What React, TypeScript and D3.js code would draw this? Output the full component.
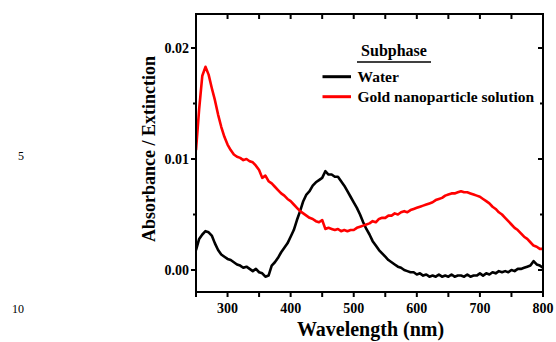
import React from "react";
import * as d3 from "d3";

// wavelength grid (nm)
const wavelengths: number[] = d3.range(250, 801, 5);

// Water subphase (x 1e-3)
const waterVals: number[] = [
  1.8, 2.8, 3.2, 3.5, 3.4, 3.1, 2.4, 1.8, 1.4, 1.2,
  1.0, 0.9, 0.7, 0.5, 0.4, 0.2, 0.3, 0.1, -0.1, 0.1,
  -0.2, -0.3, -0.6, -0.5, 0.4, 0.7, 1.1, 1.6, 2.0, 2.4,
  3.0, 3.6, 4.5, 5.3, 6.2, 6.8, 7.1, 7.6, 7.9, 8.1,
  8.3, 8.9, 8.6, 8.6, 8.4, 8.4, 8.0, 7.6, 7.1, 6.6,
  6.1, 5.6, 5.0, 4.3, 3.7, 3.2, 2.6, 2.2, 1.8, 1.5,
  1.2, 0.9, 0.7, 0.5, 0.3, 0.2, 0.0, -0.1, -0.2, -0.2,
  -0.4, -0.3, -0.5, -0.4, -0.6, -0.5, -0.6, -0.4, -0.6, -0.5,
  -0.6, -0.4, -0.6, -0.5, -0.5, -0.6, -0.4, -0.6, -0.5, -0.5,
  -0.3, -0.5, -0.3, -0.4, -0.2, -0.3, -0.1, -0.2, -0.1, -0.2,
  0.0, -0.1, 0.1, 0.1, 0.2, 0.3, 0.4, 0.8, 0.5, 0.4,
  0.2,
];

// Gold nanoparticle solution subphase (x 1e-3)
const goldVals: number[] = [
  10.8, 14.5, 17.5, 18.3, 17.6, 16.4, 15.3, 14.0, 12.9, 12.0,
  11.3, 10.8, 10.4, 10.2, 10.1, 9.9, 10.0, 9.8, 9.7, 9.4,
  9.0, 8.3, 8.5, 8.0, 7.8, 7.5, 7.2, 6.9, 6.7, 6.4,
  6.2, 5.9, 5.6, 5.3, 5.1, 4.9, 4.7, 4.6, 4.4, 4.3,
  4.5, 3.7, 3.8, 3.7, 3.6, 3.7, 3.5, 3.6, 3.5, 3.6,
  3.6, 3.8, 3.9, 4.0, 4.1, 4.2, 4.4, 4.3, 4.6, 4.7,
  4.7, 4.9, 4.9, 5.1, 5.0, 5.2, 5.3, 5.2, 5.4, 5.5,
  5.6, 5.7, 5.8, 5.9, 6.0, 6.1, 6.3, 6.4, 6.5, 6.7,
  6.8, 6.9, 6.9, 7.0, 7.1, 7.0, 7.0, 6.9, 6.8, 6.7,
  6.6, 6.4, 6.2, 6.0, 5.7, 5.5, 5.2, 5.0, 4.7, 4.4,
  4.1, 3.8, 3.6, 3.3, 3.0, 2.8, 2.5, 2.2, 2.1, 1.9,
  1.9,
];

const xMajorTicks: number[] = [300, 400, 500, 600, 700, 800];
const xAllTicks: number[] = d3.range(250, 801, 50);
const yMajorTicks: number[] = [0, 0.01, 0.02];
const yMinorTicks: number[] = [0.005, 0.015];
const seriesNames: string[] = ["Water", "Gold nanoparticle solution"];
const seriesColors: string[] = ["#000000", "#ff0000"];

const L = 196, R = 543, T = 14, B = 292;
const FONT = "'Liberation Serif', 'Times New Roman', serif";

export default function App() {
  const x = d3.scaleLinear().domain([250, 800]).range([L, R]);
  const y = d3.scaleLinear().domain([-0.00198, 0.02306]).range([B, T]);
  const line = d3
    .line<[number, number]>()
    .x((d) => x(d[0]))
    .y((d) => y(d[1]));
  const water: [number, number][] = wavelengths.map((w, i) => [w, waterVals[i] / 1000]);
  const gold: [number, number][] = wavelengths.map((w, i) => [w, goldVals[i] / 1000]);

  return (
    <svg
      width={556}
      height={342}
      style={{ position: "absolute", left: 0, top: 0, background: "#fff" }}
      fontFamily={FONT}
    >
      <defs>
        <clipPath id="plot">
          <rect x={L} y={T} width={R - L} height={B - T} />
        </clipPath>
      </defs>
      {/* line numbers */}
      <text x={24} y={160} fontSize={12} textAnchor="end">5</text>
      <text x={24} y={313} fontSize={12} textAnchor="end">10</text>

      <g clipPath="url(#plot)">
        <path d={line(water) || ""} fill="none" stroke={seriesColors[0]} strokeWidth={2.6} strokeLinejoin="round" />
        <path d={line(gold) || ""} fill="none" stroke={seriesColors[1]} strokeWidth={2.6} strokeLinejoin="round" />
      </g>

      {/* frame */}
      <rect x={L} y={T} width={R - L} height={B - T} fill="none" stroke="#000" strokeWidth={2} />

      {/* x ticks */}
      {xAllTicks.map((t) => (
        <g key={"xt" + t}>
          <line x1={x(t)} x2={x(t)} y1={B} y2={B + 5} stroke="#000" strokeWidth={2} />
          <line x1={x(t)} x2={x(t)} y1={T} y2={T + 5} stroke="#000" strokeWidth={2} />
        </g>
      ))}
      {xMajorTicks.map((t) => (
        <text key={"xl" + t} x={x(t)} y={312.5} fontSize={14} fontWeight="bold" textAnchor="middle">
          {t}
        </text>
      ))}
      {/* y ticks */}
      {yMajorTicks.map((t) => (
        <g key={"yt" + t}>
          <line x1={L - 5} x2={L} y1={y(t)} y2={y(t)} stroke="#000" strokeWidth={2} />
          <line x1={R - 5} x2={R} y1={y(t)} y2={y(t)} stroke="#000" strokeWidth={2} />
          <text x={189} y={y(t) + 5} fontSize={14} fontWeight="bold" textAnchor="end">
            {d3.format(".2f")(t)}
          </text>
        </g>
      ))}
      {yMinorTicks.map((t) => (
        <g key={"ym" + t}>
          <line x1={L - 3} x2={L} y1={y(t)} y2={y(t)} stroke="#000" strokeWidth={2} />
          <line x1={R - 3} x2={R} y1={y(t)} y2={y(t)} stroke="#000" strokeWidth={2} />
        </g>
      ))}

      {/* axis titles */}
      <text x={370.5} y={336} fontSize={20} fontWeight="bold" textAnchor="middle">
        Wavelength (nm)
      </text>
      <text
        transform="translate(154.5,149) rotate(-90)"
        fontSize={18}
        fontWeight="bold"
        textAnchor="middle"
      >
        Absorbance / Extinction
      </text>

      {/* legend */}
      <text x={394} y={56} fontSize={16} fontWeight="bold" textAnchor="middle">Subphase</text>
      <line x1={357} x2={431} y1={62} y2={62} stroke="#000" strokeWidth={1.5} />
      {seriesNames.map((n, i) => (
        <g key={n}>
          <line x1={322.5} x2={351} y1={76.7 + i * 20} y2={76.7 + i * 20} stroke={seriesColors[i]} strokeWidth={3} />
          <text x={357.5} y={81.5 + i * 20} fontSize={15.5} fontWeight="bold">{n}</text>
        </g>
      ))}
    </svg>
  );
}
